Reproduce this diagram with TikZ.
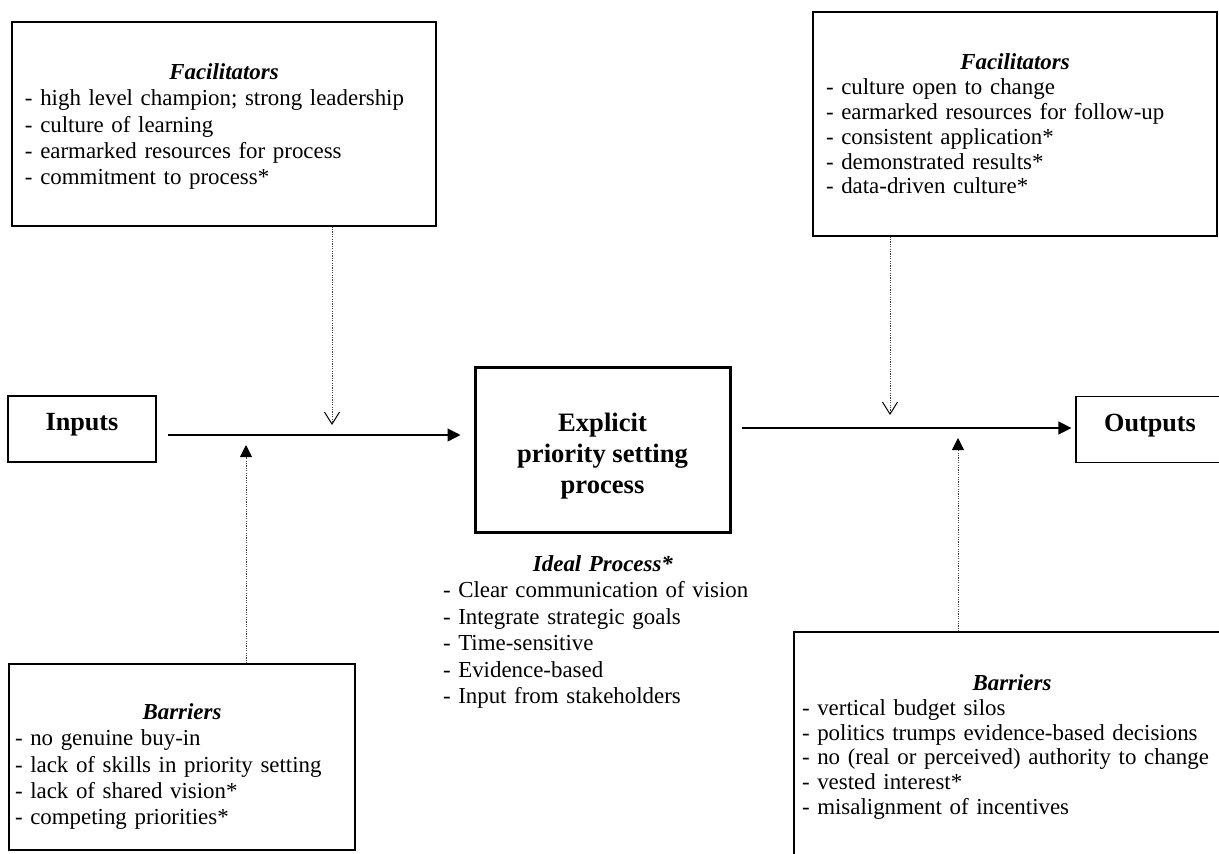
\documentclass[tikz,border=0pt]{standalone}
\usepackage{fontspec}
\setmainfont{Liberation Serif}
\usetikzlibrary{arrows.meta,calc}

\tikzset{
  box/.style={draw, line width=0.6pt, align=left, inner ysep=0pt, font=\fontsize{11.45}{13.2}\selectfont},
  headbox/.style={box, minimum width=74pt, minimum height=33pt, text depth=7pt, font=\fontsize{13.1}{15}\selectfont\bfseries},
  mainarrow/.style={line width=0.6pt, -{Triangle[length=6.5pt,width=6.5pt]}},
  dotline/.style={line width=0.5pt, black!75, dash pattern=on 0.6pt off 0.6pt},
}
\newcommand{\boxtitle}[1]{\hspace*{\fill}\textbf{\textit{#1}}\hspace*{\fill}\null\\}

\begin{document}
\begin{tikzpicture}[x=0.5pt,y=-0.5pt]
  \clip (0,0) rectangle (1219,853);

  % facilitators
  \node[box, text width=199pt, inner xsep=6.5pt, minimum height=102pt, text height=10.5pt] (facL) at (224,124) {\boxtitle{Facilitators}- high level champion; strong leadership\\- culture of learning\\- earmarked resources for process\\- commitment to process*};
  \node[box, text width=189pt, inner xsep=6.5pt, minimum height=112pt, font=\fontsize{11.45}{12.4}\selectfont] (facR) at (1015,124) {\boxtitle{Facilitators}- culture open to change\\- earmarked resources for follow-up\\- consistent application*\\- demonstrated results*\\- data-driven culture*};

  % barriers
  \node[box, text width=167pt, inner xsep=3pt, minimum height=93pt, text height=17.6pt] (barL) at (182,757) {\boxtitle{Barriers}- no genuine buy-in\\- lack of skills in priority setting\\- lack of shared vision*\\- competing priorities*};
  \node[box, text width=210pt, inner xsep=4pt, minimum height=115pt, font=\fontsize{11.45}{12.4}\selectfont] (barR) at (1012,747) {\boxtitle{Barriers}- vertical budget silos\\- politics trumps evidence-based decisions\\- no (real or perceived) authority to change\\- vested interest*\\- misalignment of incentives};

  % main row
  \node[headbox] (inputs) at (82,429) {Inputs};
  \node[headbox] (outputs) at (1150,429.5) {Outputs};
  \node[box, line width=1.5pt, align=center, minimum width=127.5pt, minimum height=82.5pt, text height=44pt, text depth=0pt, font=\fontsize{13.3}{15.5}\selectfont\bfseries] (process) at (602.5,449.5) {Explicit\\priority setting\\process};

  \node[align=left, text width=160pt, inner sep=0pt, font=\fontsize{11.45}{13.2}\selectfont] (ideal) at (603,632) {\boxtitle{Ideal Process*}- Clear communication of vision\\- Integrate strategic goals\\- Time-sensitive\\- Evidence-based\\- Input from stakeholders};

  \draw[mainarrow] ($(inputs.east)+(5.5pt,-3pt)$) -- ($(inputs.east -| process.west)+(-6.5pt,-3pt)$);
  \draw[mainarrow] ($(process.east |- outputs.west)+(5pt,0.75pt)$) -- ($(outputs.west)+(-2pt,0.75pt)$);

  % dotted influences
  \coordinate (tipFL) at (332,425);
  \coordinate (tipBL) at (246,445);
  \coordinate (tipFR) at (890,415);
  \coordinate (tipBR) at (958,438);
  \draw[dotline, -{Straight Barb[length=6pt,width=7.5pt,black]}] (facL.south -| tipFL) -- (tipFL);
  \draw[dotline, -{Triangle[length=6pt,width=6pt,black]}] (barL.north -| tipBL) -- (tipBL);
  \draw[dotline, -{Straight Barb[length=6pt,width=7.5pt,black]}] (facR.south -| tipFR) -- (tipFR);
  \draw[dotline, -{Triangle[length=6pt,width=6pt,black]}] (barR.north -| tipBR) -- (tipBR);
\end{tikzpicture}
\end{document}
